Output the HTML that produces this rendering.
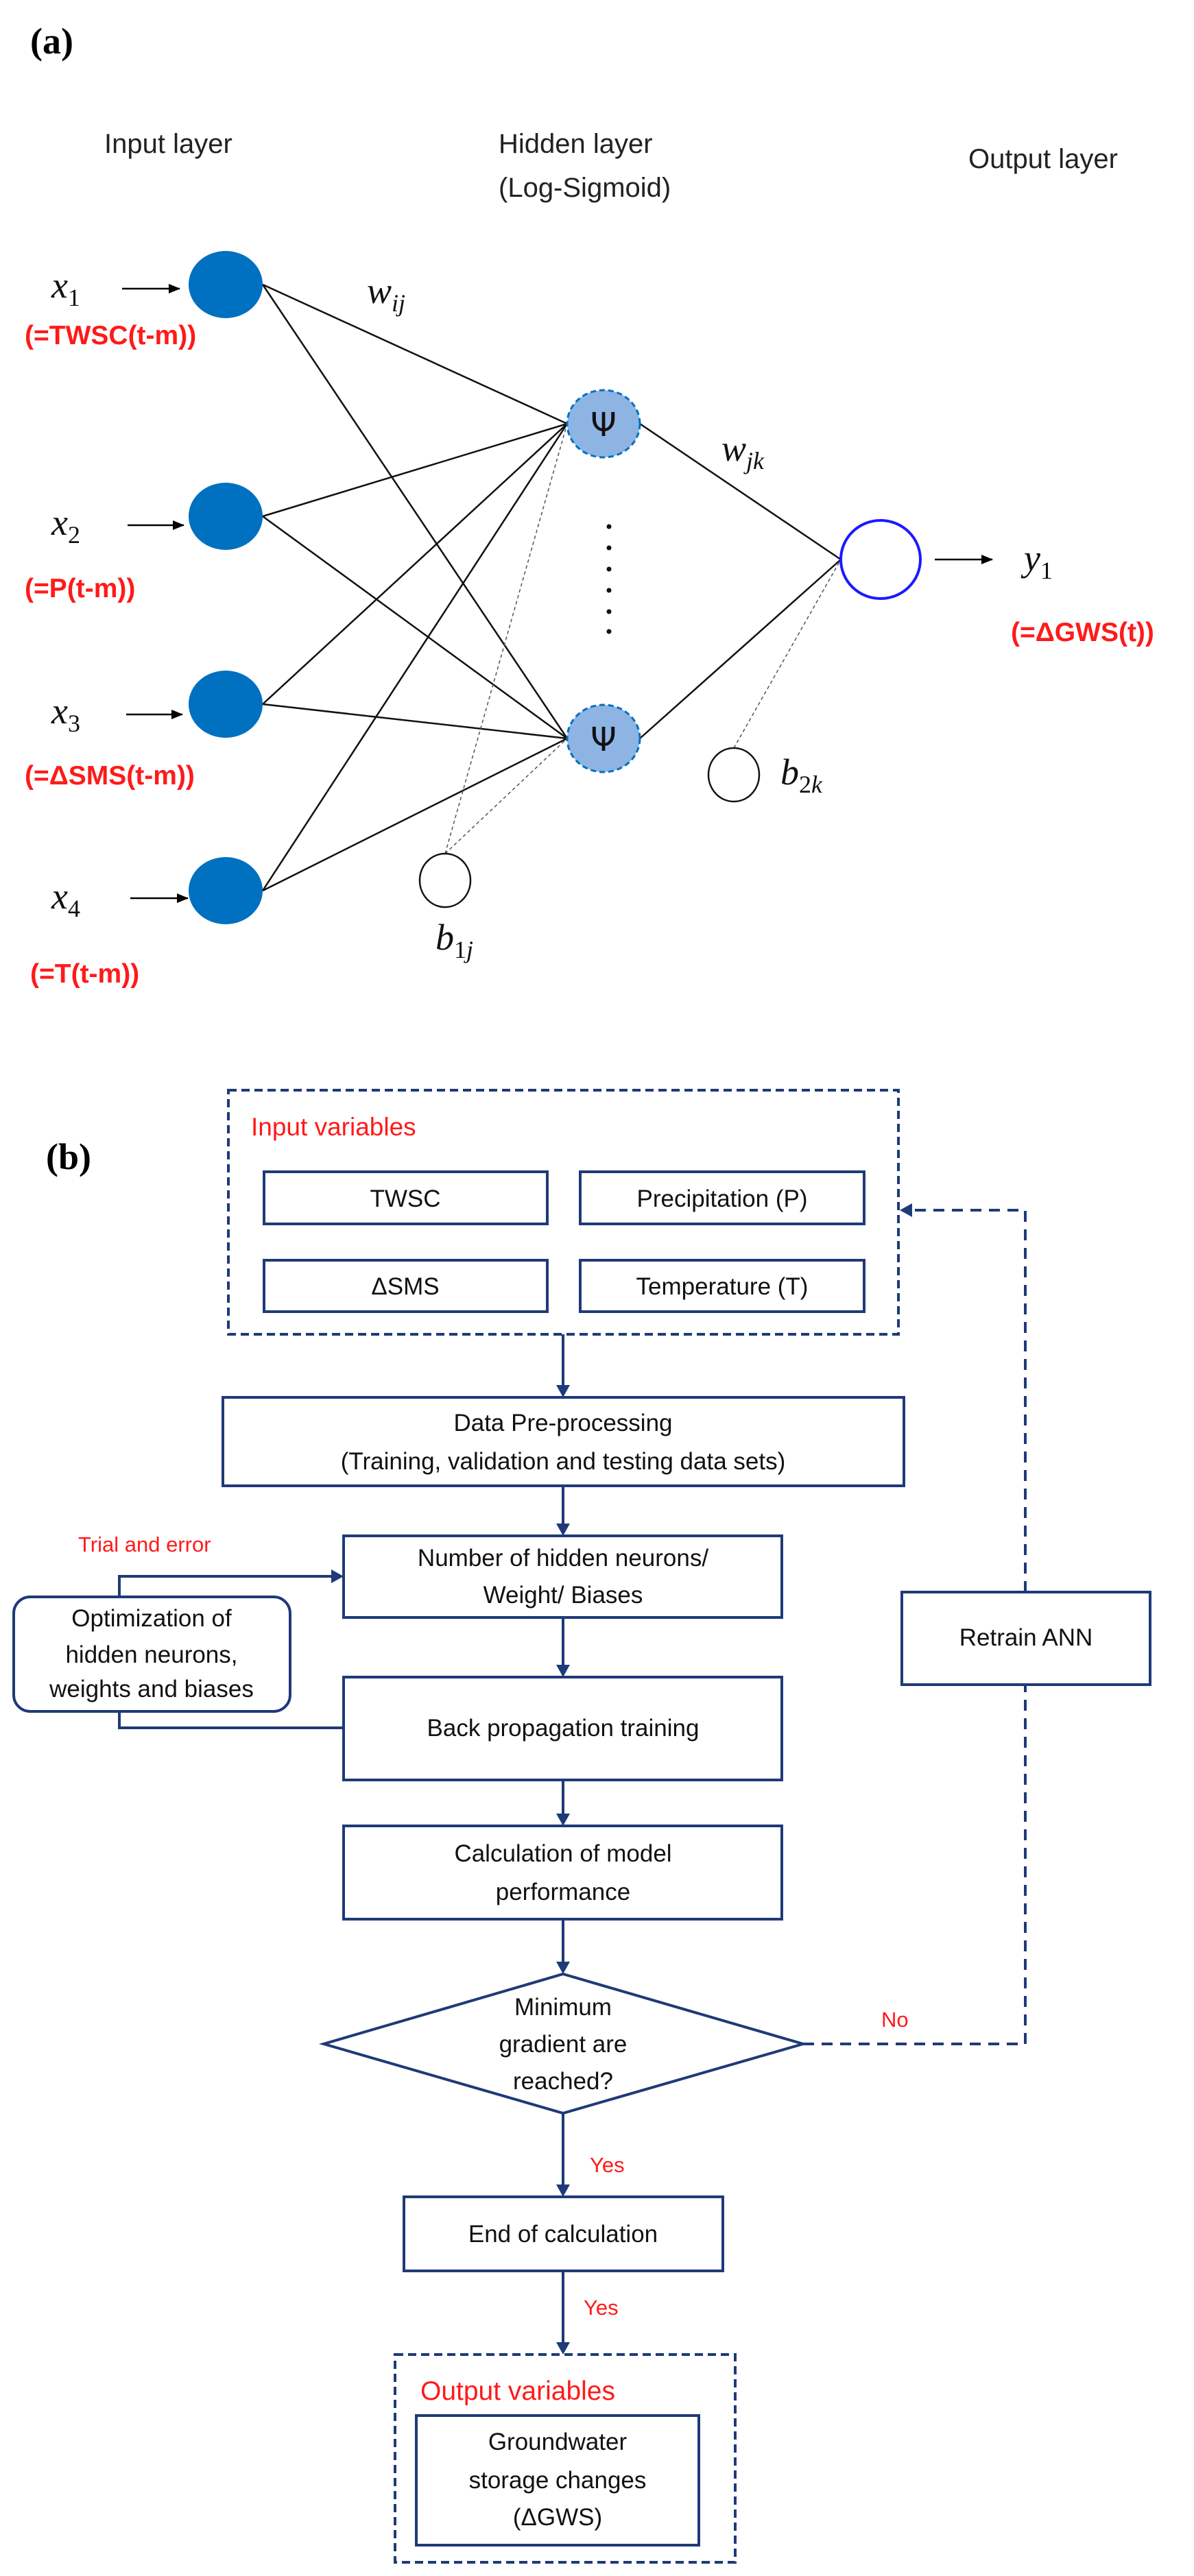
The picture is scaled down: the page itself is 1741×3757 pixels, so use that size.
<!DOCTYPE html>
<html><head><meta charset="utf-8"><style>
html,body{margin:0;padding:0;background:#fff}
svg{display:block}
.s{font-family:"Liberation Sans",sans-serif}
.m{font-family:"Liberation Serif",serif;font-style:italic}
</style></head><body>
<svg width="1741" height="3757" viewBox="0 0 1741 3757" xmlns="http://www.w3.org/2000/svg">
<defs>
<marker id="ak" markerWidth="18" markerHeight="16" refX="16" refY="8" orient="auto" markerUnits="userSpaceOnUse"><path d="M0,1 L17,8 L0,15 z" fill="#000"/></marker>
</defs>
<!-- (a) -->
<text x="44" y="78" font-family="Liberation Serif,serif" font-weight="bold" font-size="54">(a)</text>
<g class="s" font-size="40" fill="#222">
<text x="152" y="223">Input layer</text>
<text x="727" y="223">Hidden layer</text>
<text x="727" y="287">(Log-Sigmoid)</text>
<text x="1412" y="245">Output layer</text>
</g>
<g stroke="#111" stroke-width="2.5">
<line x1="383" y1="415" x2="827" y2="618"/><line x1="383" y1="415" x2="827" y2="1077"/>
<line x1="383" y1="753" x2="827" y2="618"/><line x1="383" y1="753" x2="827" y2="1077"/>
<line x1="383" y1="1027" x2="827" y2="618"/><line x1="383" y1="1027" x2="827" y2="1077"/>
<line x1="383" y1="1299" x2="827" y2="618"/><line x1="383" y1="1299" x2="827" y2="1077"/>
<line x1="933" y1="618" x2="1226" y2="816"/><line x1="933" y1="1077" x2="1226" y2="816"/>
</g>
<g stroke="#555" stroke-width="1.5" stroke-dasharray="5,4">
<line x1="649" y1="1245" x2="827" y2="618"/><line x1="649" y1="1245" x2="827" y2="1077"/>
<line x1="1070" y1="1091" x2="1226" y2="816"/>
</g>
<g fill="#0070c0">
<ellipse cx="329" cy="415" rx="54" ry="49"/><ellipse cx="329" cy="753" rx="54" ry="49"/>
<ellipse cx="329" cy="1027" rx="54" ry="49"/><ellipse cx="329" cy="1299" rx="54" ry="49"/>
</g>
<g fill="#8eb4e3" stroke="#0070c0" stroke-width="3" stroke-dasharray="8,5">
<ellipse cx="880" cy="618" rx="53" ry="49"/><ellipse cx="880" cy="1077" rx="53" ry="49"/>
</g>
<g font-family="DejaVu Sans,sans-serif" font-size="48" text-anchor="middle" fill="#111">
<text x="880" y="636">Ψ</text><text x="880" y="1095">Ψ</text>
</g>
<g fill="#111"><circle cx="888" cy="768" r="3.5"/><circle cx="888" cy="799" r="3.5"/><circle cx="888" cy="830" r="3.5"/><circle cx="888" cy="861" r="3.5"/><circle cx="888" cy="892" r="3.5"/><circle cx="888" cy="921" r="3.5"/></g>
<ellipse cx="1284" cy="816" rx="58" ry="57" fill="none" stroke="#1a1aff" stroke-width="4"/>
<ellipse cx="649" cy="1284" rx="37" ry="39" fill="#fff" stroke="#111" stroke-width="2.5"/>
<ellipse cx="1070" cy="1130" rx="37" ry="39" fill="#fff" stroke="#111" stroke-width="2.5"/>
<g stroke="#000" stroke-width="2.5">
<line x1="178" y1="421" x2="262" y2="421" marker-end="url(#ak)"/>
<line x1="186" y1="766" x2="268" y2="766" marker-end="url(#ak)"/>
<line x1="184" y1="1042" x2="266" y2="1042" marker-end="url(#ak)"/>
<line x1="190" y1="1310" x2="274" y2="1310" marker-end="url(#ak)"/>
<line x1="1363" y1="816" x2="1447" y2="816" marker-end="url(#ak)"/>
</g>
<g class="m" font-size="54" fill="#111">
<text x="75" y="434">x<tspan font-size="36" font-style="normal" dy="12">1</tspan></text>
<text x="75" y="780">x<tspan font-size="36" font-style="normal" dy="12">2</tspan></text>
<text x="75" y="1055">x<tspan font-size="36" font-style="normal" dy="12">3</tspan></text>
<text x="75" y="1325">x<tspan font-size="36" font-style="normal" dy="12">4</tspan></text>
<text x="1493" y="832">y<tspan font-size="36" font-style="normal" dy="12">1</tspan></text>
<text x="535" y="442">w<tspan font-size="36" dy="12">ij</tspan></text>
<text x="1052" y="672">w<tspan font-size="36" dy="12">jk</tspan></text>
<text x="635" y="1385">b<tspan font-size="36" dy="12"><tspan font-style="normal">1</tspan>j</tspan></text>
<text x="1138" y="1144">b<tspan font-size="36" dy="12"><tspan font-style="normal">2</tspan>k</tspan></text>
</g>
<g class="s" font-size="39" font-weight="bold" fill="#ff1a1a">
<text x="36" y="502">(=TWSC(t-m))</text>
<text x="36" y="871">(=P(t-m))</text>
<text x="36" y="1144">(=ΔSMS(t-m))</text>
<text x="44" y="1433">(=T(t-m))</text>
<text x="1474" y="935">(=ΔGWS(t))</text>
</g>
<!-- (b) -->
<text x="67" y="1705" font-family="Liberation Serif,serif" font-weight="bold" font-size="54">(b)</text>
<g fill="none" stroke="#1f3a78" stroke-width="4">
<rect x="333" y="1590" width="977" height="356" stroke-dasharray="12,7"/>
<rect x="385" y="1709" width="413" height="76"/>
<rect x="846" y="1709" width="414" height="76"/>
<rect x="385" y="1838" width="413" height="75"/>
<rect x="846" y="1838" width="414" height="75"/>
<rect x="325" y="2038" width="993" height="129"/>
<rect x="501" y="2240" width="639" height="119"/>
<rect x="20" y="2329" width="403" height="167" rx="24"/>
<rect x="501" y="2446" width="639" height="150"/>
<rect x="501" y="2663" width="639" height="136"/>
<polygon points="821,2879 1171,2981 821,3082 472,2981"/>
<rect x="589" y="3204" width="465" height="108"/>
<rect x="1315" y="2322" width="362" height="135"/>
<rect x="576" y="3434" width="496" height="303" stroke-dasharray="12,7"/>
<rect x="607" y="3523" width="412" height="189"/>
<polyline points="1171,2981 1495,2981 1495,2457" stroke-dasharray="16,11"/>
<polyline points="1495,2322 1495,1765 1330,1765" stroke-dasharray="16,11"/>
<polyline points="174,2496 174,2520 501,2520"/>
<polyline points="174,2329 174,2299 484,2299"/>
<line x1="821" y1="1946" x2="821" y2="2022"/>
<line x1="821" y1="2167" x2="821" y2="2224"/>
<line x1="821" y1="2359" x2="821" y2="2430"/>
<line x1="821" y1="2596" x2="821" y2="2647"/>
<line x1="821" y1="2799" x2="821" y2="2863"/>
<line x1="821" y1="3082" x2="821" y2="3188"/>
<line x1="821" y1="3312" x2="821" y2="3418"/>
</g>
<g fill="#1f3a78">
<path d="M811,2020 L831,2020 L821,2038 z"/>
<path d="M811,2222 L831,2222 L821,2240 z"/>
<path d="M811,2428 L831,2428 L821,2446 z"/>
<path d="M811,2645 L831,2645 L821,2663 z"/>
<path d="M811,2861 L831,2861 L821,2879 z"/>
<path d="M811,3186 L831,3186 L821,3204 z"/>
<path d="M811,3416 L831,3416 L821,3434 z"/>
<path d="M483,2289 L501,2299 L483,2309 z"/>
<path d="M1330,1755 L1312,1765 L1330,1775 z"/>
</g>
<g class="s" font-size="35" fill="#111" text-anchor="middle">
<text x="591" y="1760">TWSC</text>
<text x="1053" y="1760">Precipitation (P)</text>
<text x="591" y="1888">ΔSMS</text>
<text x="1053" y="1888">Temperature (T)</text>
<text x="821" y="2087">Data Pre-processing</text>
<text x="821" y="2143">(Training, validation and testing data sets)</text>
<text x="821" y="2284">Number of hidden neurons/</text>
<text x="821" y="2338">Weight/ Biases</text>
<text x="221" y="2372">Optimization of</text>
<text x="221" y="2425">hidden neurons,</text>
<text x="221" y="2475">weights and biases</text>
<text x="821" y="2532">Back propagation training</text>
<text x="821" y="2715">Calculation of model</text>
<text x="821" y="2771">performance</text>
<text x="821" y="2939">Minimum</text>
<text x="821" y="2993">gradient are</text>
<text x="821" y="3047">reached?</text>
<text x="821" y="3270">End of calculation</text>
<text x="1496" y="2400">Retrain ANN</text>
<text x="813" y="3573">Groundwater</text>
<text x="813" y="3629">storage changes</text>
<text x="813" y="3683">(ΔGWS)</text>
</g>
<g class="s" fill="#ff1a1a">
<text x="366" y="1656" font-size="37">Input variables</text>
<text x="613" y="3500" font-size="39">Output variables</text>
<text x="114" y="2263" font-size="31">Trial and error</text>
<text x="1285" y="2956" font-size="31">No</text>
<text x="860" y="3168" font-size="31">Yes</text>
<text x="851" y="3376" font-size="31">Yes</text>
</g>
</svg>
</body></html>
